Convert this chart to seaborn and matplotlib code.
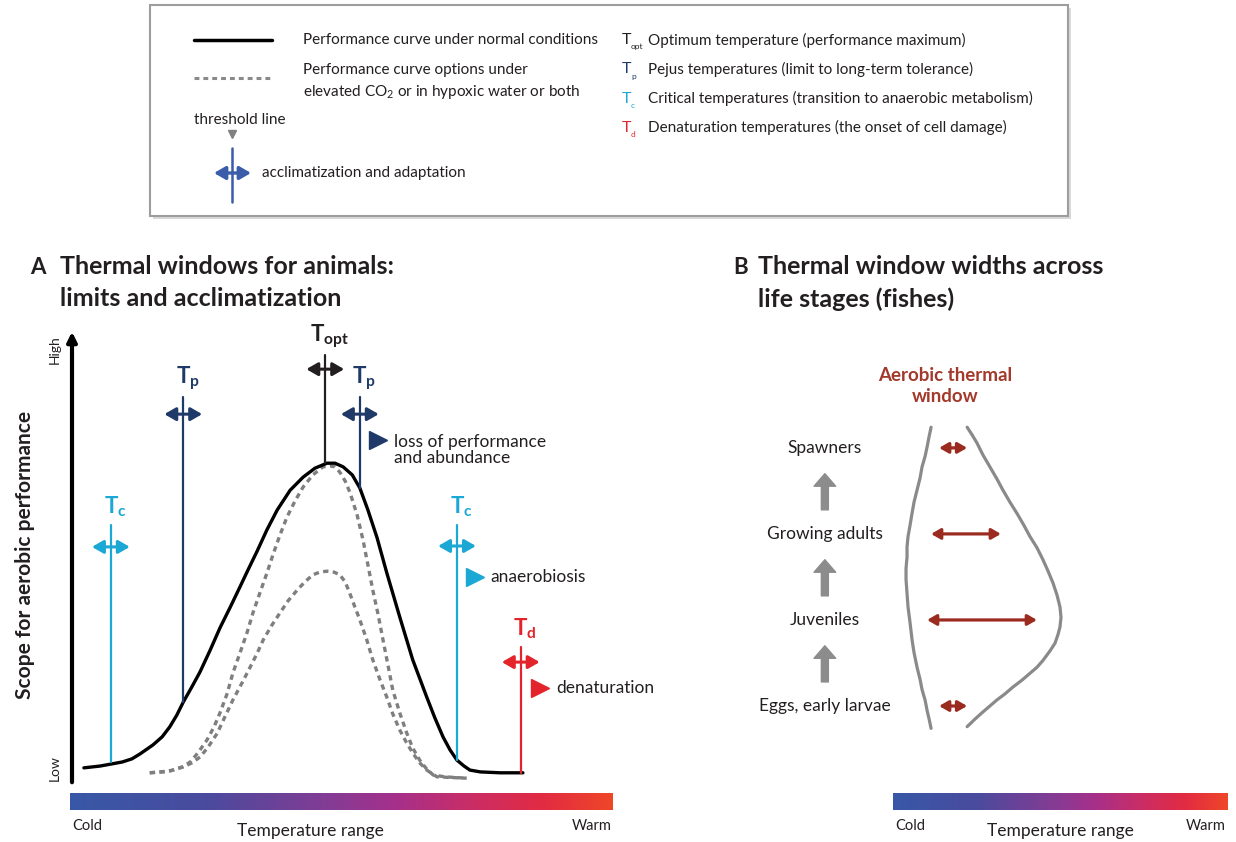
import numpy as np
import seaborn as sns
import matplotlib.pyplot as plt
from matplotlib.colors import LinearSegmentedColormap
from matplotlib.patches import Rectangle

# ---- Panel A: performance curves (temperature 0-100, aerobic scope 0-100)
normal_temp = [2.2, 5.2, 9.3, 11.1, 12.6, 15.0, 16.7, 18.1, 19.4, 20.6, 22.2, 23.7, 25.6,
               27.4, 29.3, 31.1, 32.6, 34.3, 36.1, 38.0, 40.4, 42.8, 45.0, 47.2, 48.7,
               50.2, 51.9, 53.3, 54.8, 56.5, 58.3, 60.7, 63.1, 65.7, 67.2, 68.7, 70.0,
               71.3, 72.6, 73.7, 75.6, 79.3, 83.5]
normal_scope = [2.7, 3.1, 4.0, 4.7, 5.8, 7.8, 9.6, 11.8, 14.4, 17.3, 20.7, 24.0, 28.9,
                33.8, 38.4, 42.9, 46.7, 50.9, 55.6, 60.0, 64.4, 67.3, 69.3, 70.4, 70.4,
                69.6, 67.8, 64.9, 60.0, 53.8, 46.0, 36.2, 26.7, 18.4, 13.8, 9.6, 6.7,
                4.4, 3.1, 2.2, 1.8, 1.6, 1.6]

stress_hi_temp = [14.4, 16.9, 18.7, 20.4, 21.9, 23.3, 25.0, 26.3, 27.4, 28.7, 29.8, 31.1,
                  32.4, 33.5, 34.8, 36.1, 37.2, 38.5, 39.8, 41.3, 42.8, 44.6, 46.5, 47.8,
                  48.7, 49.6, 50.6, 51.5, 52.8, 53.9, 54.8, 55.7, 56.7, 57.6, 58.5, 59.4,
                  60.7, 62.0, 63.1, 64.4, 65.7, 66.9, 69.1, 73.1]
stress_hi_scope = [1.6, 1.8, 2.2, 2.9, 4.0, 6.0, 8.9, 11.8, 14.9, 19.1, 23.8, 28.2,
                   32.7, 37.1, 41.6, 46.0, 50.0, 54.4, 58.4, 62.0, 65.1, 67.8, 69.6, 69.8,
                   69.6, 68.4, 66.4, 63.8, 58.9, 53.3, 47.8, 42.2, 36.7, 31.1, 25.6, 20.0,
                   14.9, 10.4, 7.1, 4.4, 2.4, 1.1, 0.7, 0.4]

stress_lo_temp = [14.4, 18.1, 20.6, 22.2, 23.7, 25.2, 26.9, 28.3, 29.8, 31.5, 33.0, 34.3,
                  35.4, 36.9, 38.5, 40.0, 41.7, 43.1, 44.6, 45.9, 47.2, 48.5, 49.6, 50.6,
                  51.5, 52.4, 53.3, 54.6, 55.7, 57.0, 58.3, 59.4, 60.7, 61.9, 63.1, 64.4,
                  65.7, 67.6, 73.1]
stress_lo_scope = [1.6, 2.0, 2.9, 3.8, 5.1, 7.3, 10.4, 14.0, 17.8, 21.6, 25.1, 28.2,
                   31.1, 34.2, 37.1, 39.8, 42.2, 44.0, 45.6, 46.2, 46.4, 46.2, 45.6, 44.0,
                   41.3, 38.4, 35.6, 31.1, 26.7, 22.4, 18.4, 14.7, 11.1, 8.4, 6.0, 3.8,
                   2.2, 0.7, 0.4]

# threshold lines: subscript, temperature, bottom, top, arrow level
thr_names = ['c', 'p', 'opt', 'p', 'c', 'd']
thr_temp = [7.2, 20.6, 46.9, 53.3, 71.3, 83.1]
thr_low = [3.9, 17.3, 70.4, 64.9, 4.4, 1.6]
thr_high = [56.7, 85.1, 94.4, 85.1, 56.7, 29.6]
thr_arrow = [51.8, 81.3, 91.3, 81.3, 52.0, 26.2]
thr_colors = ['#1ba8d4', '#1f3a68', '#231f20', '#1f3a68', '#1ba8d4', '#e3252b']

# consequences beyond the thresholds
effect_text = ['loss of performance\nand abundance', 'anaerobiosis', 'denaturation']
effect_temp = [56.7, 74.6, 86.7]
effect_scope = [75.6, 45.1, 20.4]
effect_colors = ['#1f3a68', '#1ba8d4', '#e3252b']

# ---- Panel B: thermal window widths across life stages
stages = ['Eggs, early larvae', 'Juveniles', 'Growing adults', 'Spawners']
window_low = [13.8, 10.2, 11.4, 13.8]
window_high = [22.2, 43.1, 32.3, 22.2]

env_left_temp = [11.4, 10.8, 10.2, 9.6, 8.7, 8.1, 7.2, 6.3, 5.7, 5.1, 4.5, 4.2, 4.2, 3.9,
                 3.9, 4.2, 4.5, 5.1, 5.7, 6.3, 7.2, 8.1, 8.7, 9.6, 10.2, 10.8, 11.4]
env_left_stage = [3.24, 3.13, 3.01, 2.90, 2.78, 2.65, 2.51, 2.37, 2.24, 2.10, 1.97, 1.85,
                  1.73, 1.60, 1.47, 1.31, 1.15, 0.97, 0.77, 0.62, 0.45, 0.31, 0.19, 0.07,
                  -0.05, -0.15, -0.26]
env_right_temp = [22.2, 23.7, 25.1, 26.9, 29.0, 31.1, 32.9, 35.0, 37.1, 39.2, 41.0, 43.1,
                  44.9, 46.4, 47.9, 49.1, 50.0, 50.3, 50.0, 49.4, 48.5, 47.0, 44.9, 43.1,
                  41.0, 38.6, 35.9, 33.5, 31.1, 29.0, 26.9, 24.6, 22.2]
env_right_stage = [3.24, 3.15, 3.06, 2.92, 2.78, 2.64, 2.51, 2.37, 2.24, 2.10, 1.97, 1.84,
                   1.70, 1.57, 1.43, 1.29, 1.15, 1.03, 0.92, 0.83, 0.73, 0.64, 0.53, 0.45,
                   0.38, 0.30, 0.22, 0.14, 0.07, 0.00, -0.07, -0.15, -0.24]

legend_sym = ['opt', 'p', 'c', 'd']
legend_desc = ['Optimum temperature (performance maximum)',
               'Pejus temperatures (limit to long-term tolerance)',
               'Critical temperatures (transition to anaerobic metabolism)',
               'Denaturation temperatures (the onset of cell damage)']
legend_colors = ['#231f20', '#1f3a68', '#1ba8d4', '#e3252b']

sns.set_theme(style='white')
plt.rcParams['font.family'] = ['Lato', 'DejaVu Sans']
plt.rcParams['mathtext.fontset'] = 'custom'
plt.rcParams['mathtext.rm'] = 'Lato'
plt.rcParams['mathtext.bf'] = 'Lato:bold'
plt.rcParams['text.color'] = '#231f20'

temp_cmap = LinearSegmentedColormap.from_list(
    'temp', [(0, '#3858a7'), (0.25, '#4a4b9e'), (0.5, '#8a3a93'), (0.6, '#a6308b'),
             (0.75, '#cc2d63'), (0.87, '#e12b43'), (1, '#ef4629')])

W, H = 1236, 842
fig = plt.figure(figsize=(W / 100, H / 100), dpi=100)


def px_axes(x0, y0, x1, y1):
    ax = fig.add_axes([x0 / W, 1 - y1 / H, (x1 - x0) / W, (y1 - y0) / H])
    ax.axis('off')
    return ax


def double_arrow(ax, x0, x1, y, color, lw=2.2, ms=15):
    ax.annotate('', xy=(x1, y), xytext=(x0, y), annotation_clip=False,
                arrowprops=dict(arrowstyle='<|-|>,head_length=0.45,head_width=0.26',
                                color=color, lw=lw, mutation_scale=ms,
                                shrinkA=0, shrinkB=0, joinstyle='round'))


# overlay for legend box, titles and axis words
ov = px_axes(0, 0, W, H)
ov.set_xlim(0, W)
ov.set_ylim(H, 0)

ov.add_patch(Rectangle((153, 8), 918, 211, fc='#d9d9d9', ec='none'))
ov.add_patch(Rectangle((150, 5), 918, 211, fc='white', ec='#9d9d9d', lw=1.5))
ov.plot([194, 272], [40, 40], color='black', lw=2.5)
ov.plot([194, 272], [78, 78], color='#8a8a8a', lw=2.2, ls=(0, (1.6, 1.3)))
ov.text(303, 40, 'Performance curve under normal conditions', fontsize=11, va='center')
ov.text(303, 70, 'Performance curve options under', fontsize=11, va='center')
ov.text(303, 92, 'elevated CO$_2$ or in hypoxic water or both', fontsize=11, va='center')
ov.text(194, 120, 'threshold line', fontsize=11, va='center')
ov.plot(232, 134, marker='v', ms=6, color='#808080')
ov.plot([232, 232], [148, 202], color='#3a5ca9', lw=1.8)
double_arrow(ov, 214, 251, 173, '#3a5ca9', lw=2.4, ms=15)
ov.text(262, 173, 'acclimatization and adaptation', fontsize=11, va='center')
for i, (s, d, c) in enumerate(zip(legend_sym, legend_desc, legend_colors)):
    y = 40 + 29.3 * i
    ov.text(622, y, 'T', color=c, fontsize=11.5, va='center')
    ov.text(631, y + 7, s, color=c, fontsize=6, va='center')
    ov.text(648, y, d, fontsize=11, va='center')

# panel titles
for x_letter, x_text, letter, lines in [(30, 60, 'A', ['Thermal windows for animals:', 'limits and acclimatization']),
                                        (733, 758, 'B', ['Thermal window widths across', 'life stages (fishes)'])]:
    ov.text(x_letter, 267, letter, fontsize=16, fontweight='bold', va='center')
    ov.text(x_text, 267, lines[0], fontsize=18, fontweight='bold', va='center')
    ov.text(x_text, 299, lines[1], fontsize=18, fontweight='bold', va='center')

ov.text(25, 555, 'Scope for aerobic performance', rotation=90, fontsize=15,
        fontweight='bold', ha='center', va='center')
ov.text(55, 350, 'High', rotation=90, fontsize=10, ha='center', va='center')
ov.text(55, 768, 'Low', rotation=90, fontsize=10, ha='center', va='center')

# temperature colour bars
for x0, x1, xc in [(70, 613, 310), (893, 1227, 1060)]:
    cb = px_axes(x0, 793, x1, 810)
    cb.imshow(np.linspace(0, 1, 256)[None, :], aspect='auto', cmap=temp_cmap)
    ov.text(x0 + 2, 826, 'Cold', fontsize=10.5, va='center')
    ov.text(x1 - 1, 826, 'Warm', fontsize=10.5, ha='right', va='center')
    ov.text(xc, 831, 'Temperature range', fontsize=12.5, ha='center', va='center')

# ---- Panel A
axA = px_axes(72, 330, 612, 780)
axA.set_xlim(0, 100)
axA.set_ylim(0, 100)
dash = (0, (1.6, 1.3))
sns.lineplot(x=stress_hi_temp, y=stress_hi_scope, sort=False, estimator=None,
             color='#7f7f7f', lw=2.4, linestyle=dash, ax=axA)
sns.lineplot(x=stress_lo_temp, y=stress_lo_scope, sort=False, estimator=None,
             color='#7f7f7f', lw=2.4, linestyle=dash, ax=axA)
sns.lineplot(x=normal_temp, y=normal_scope, sort=False, estimator=None,
             color='black', lw=2.4, ax=axA)

axA.annotate('', xy=(0, 99.6), xytext=(0, -0.5), annotation_clip=False,
             arrowprops=dict(arrowstyle='-|>', color='black', lw=3,
                             mutation_scale=14, shrinkA=0, shrinkB=0))

for name, t, lo, hi, ay, col in zip(thr_names, thr_temp, thr_low, thr_high, thr_arrow, thr_colors):
    axA.plot([t, t], [lo, hi], color=col, lw=1.6)
    double_arrow(axA, t - 3.5, t + 3.5, ay, col)
    axA.text(t + 0.8, hi + 1.2, rf'$\mathbf{{T_{{{name}}}}}$', color=col,
             fontsize=16, ha='center', va='bottom')

for txt, t, s, col in zip(effect_text, effect_temp, effect_scope, effect_colors):
    axA.plot(t, s, marker='>', ms=13, color=col, ls='none', clip_on=False)
    axA.text(t + 2.9, s if '\n' not in txt else s - 2.3, txt, fontsize=12.5,
             va='center', linespacing=1.02, clip_on=False)

# ---- Panel B
axB = px_axes(893, 330, 1227, 780)
axB.set_xlim(0, 100)
axB.set_ylim(-0.86, 4.37)
sns.lineplot(x=env_left_temp, y=env_left_stage, sort=False, estimator=None,
             color='#8a8a8a', lw=2.3, ax=axB)
sns.lineplot(x=env_right_temp, y=env_right_stage, sort=False, estimator=None,
             color='#8a8a8a', lw=2.3, ax=axB)

for i, (stage, lo, hi) in enumerate(zip(stages, window_low, window_high)):
    double_arrow(axB, lo, hi, i, '#9b2b1f', lw=2.3, ms=12)
    axB.text(-20.4, i, stage, fontsize=12.5, ha='center', va='center')
    if i < len(stages) - 1:
        axB.annotate('', xy=(-20.4, i + 0.70), xytext=(-20.4, i + 0.28), annotation_clip=False,
                     arrowprops=dict(arrowstyle='simple,head_length=0.75,head_width=1.3,tail_width=0.42',
                                     color='#8c8c8c', mutation_scale=12, shrinkA=0, shrinkB=0))

axB.text(15.6, 3.72, 'Aerobic thermal\nwindow', color='#a3392b', fontsize=13.5,
         fontweight='bold', ha='center', va='center', linespacing=1.25)

fig.savefig('out.png', dpi=100)
